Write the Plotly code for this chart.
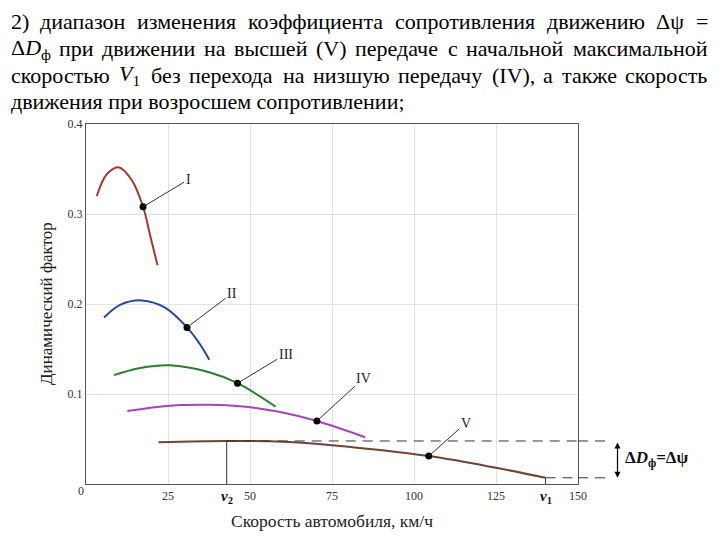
import re
import plotly.graph_objects as go

# dynamic factor curves for gears I..V (speed km/h, dynamic factor)
speed_I = [3.3, 6.3, 9.9, 13.9, 17.4, 19.5, 21.8]
dyn_I = [0.320, 0.344, 0.352, 0.338, 0.308, 0.277, 0.243]
speed_II = [5.5, 10.4, 17.1, 24.1, 30.8, 34.8, 37.6]
dyn_II = [0.185, 0.199, 0.204, 0.196, 0.174, 0.155, 0.138]
speed_III = [8.5, 16.5, 25.6, 36.8, 46.2, 57.8]
dyn_III = [0.121, 0.129, 0.132, 0.125, 0.112, 0.086]
speed_IV = [12.6, 25.6, 37.8, 47.0, 59.2, 70.4, 85.1]
dyn_IV = [0.081, 0.087, 0.088, 0.0864, 0.080, 0.070, 0.052]
speed_V = [22.1, 42.9, 60.0, 75.0, 104.5, 125.0, 140.1]
dyn_V = [0.0464, 0.0478, 0.0469, 0.0431, 0.031, 0.018, 0.0069]

gear_names = ["I", "II", "III", "IV", "V"]
# marked points on each curve
dot_speed = [17.4, 30.8, 46.2, 70.4, 104.5]
dot_dyn = [0.308, 0.174, 0.112, 0.070, 0.031]

v2_speed = 42.9      # speed at max dynamic factor on V
v1_speed = 140.1     # max speed on V
dyn_max_V = 0.0478
dyn_v1 = 0.0069

x_ticks = [25, 50, 75, 100, 125, 150]
y_ticks = [0.1, 0.2, 0.3, 0.4]
y_ticklabels = ["0.1", "0.2", "0.3", "0.4"]

title_lines = [
    ["2)", "диапазон", "изменения", "коэффициента", "сопротивления", "движению", "Δψ", "="],
    ["Δ<i>D</i><sub>ф</sub>", "при", "движении", "на", "высшей", "(V)", "передаче", "с",
     "начальной", "максимальной"],
    ["скоростью", "<i>V</i><sub>1</sub>", "без", "перехода", "на", "низшую", "передачу",
     "(IV),", "а", "также", "скорость"],
]
title_last = "движения при возросшем сопротивлении;"

colors = ["#a8372a", "#2747a3", "#2a7e2e", "#a445b8", "#6e4434"]
SERIF = "Liberation Serif"

# plot area in page pixels; the page body adds an 8px offset to the figure
PAGE_OFF = 8
L, R, T, B = 86, 578, 124, 484
def px(xp):
    return (xp - L) / (R - L)
def py(yp):
    return (B - yp) / (B - T)

# approximate Times advance widths (em) for justifying the heading
CHAR_W = {
    'а': .444, 'б': .508, 'в': .472, 'г': .41, 'д': .509, 'е': .444, 'ж': .691, 'з': .395,
    'и': .535, 'й': .535, 'к': .486, 'л': .499, 'м': .633, 'н': .535, 'о': .5, 'п': .535,
    'р': .5, 'с': .444, 'т': .437, 'у': .5, 'ф': .648, 'х': .5, 'ц': .535, 'ч': .503,
    'ш': .77, 'щ': .77, 'ъ': .517, 'ы': .672, 'ь': .456, 'э': .429, 'ю': .747, 'я': .484,
    'V': .722, 'I': .333, 'D': .722, '(': .333, ')': .333, ',': .25, ';': .278, '=': .564,
    '2': .5, '1': .5, 'Δ': .612, 'ψ': .686, ' ': .25,
}

def text_width(s, size):
    total = 0.0
    for m in re.finditer(r'<sub>(.*?)</sub>|<[^>]+>|([^<]+)', s):
        if m.group(1) is not None:
            total += 0.7 * sum(CHAR_W.get(c, .5) for c in m.group(1))
        elif m.group(2) is not None:
            total += sum(CHAR_W.get(c, .5) for c in m.group(2))
    return total * size

fig = go.Figure()

for sp, dy, col in zip([speed_I, speed_II, speed_III, speed_IV, speed_V],
                       [dyn_I, dyn_II, dyn_III, dyn_IV, dyn_V], colors):
    fig.add_trace(go.Scatter(x=sp, y=dy, mode="lines", line=dict(color=col, width=2, shape="spline"),
                             hoverinfo="skip", showlegend=False))

fig.add_trace(go.Scatter(x=dot_speed, y=dot_dyn, mode="markers",
                         marker=dict(color="black", size=7), showlegend=False, cliponaxis=False))

ann = []
# gear labels with leader lines
offsets = [(45, -27), (45, -34), (48, -29), (47, -43), (37, -33)]
for name, xs, ys, (ax, ay) in zip(gear_names, dot_speed, dot_dyn, offsets):
    ann.append(dict(x=xs, y=ys, xref="x", yref="y", text=name, showarrow=True, arrowhead=0,
                    arrowwidth=1, arrowcolor="#333", ax=ax, ay=ay, standoff=0,
                    font=dict(family=SERIF, size=14, color="#222")))

# v2 / v1 labels
for sp, lab in [(v2_speed, "<b><i>v</i><sub>2</sub></b>"), (v1_speed, "<b><i>v</i><sub>1</sub></b>")]:
    ann.append(dict(x=sp, y=0, xref="x", yref="y", text=lab, showarrow=False, yanchor="top",
                    yshift=-2, font=dict(family=SERIF, size=15, color="#111")))

# double arrow and delta label on the right
ann.append(dict(x=px(617.5), xref="paper", y=dyn_v1, yref="y", ax=0, ay=dyn_max_V, ayref="y",
                text="", showarrow=True, arrowhead=2, arrowside="end+start", arrowsize=1,
                arrowwidth=1.2, arrowcolor="black", standoff=0, startstandoff=0))
ann.append(dict(x=px(623), xref="paper", y=(dyn_max_V + dyn_v1) / 2, yref="y", xanchor="left",
                yanchor="middle", text="<b>Δ<i>D</i><sub>ф</sub>=Δψ</b>", showarrow=False,
                font=dict(family=SERIF, size=17, color="#111")))

# axis titles and origin label
ann.append(dict(x=px(46), y=0.5, xref="paper", yref="paper", text="Динамический фактор",
                textangle=-90, showarrow=False, xanchor="center", yanchor="middle",
                font=dict(family=SERIF, size=17, color="#222")))
ann.append(dict(x=px(332), y=py(521), xref="paper", yref="paper", text="Скорость автомобиля, км/ч",
                showarrow=False, xanchor="center", yanchor="middle",
                font=dict(family=SERIF, size=17.5, color="#222")))
ann.append(dict(x=px(81), y=py(491), xref="paper", yref="paper", text="0", showarrow=False,
                xanchor="center", yanchor="middle", font=dict(family=SERIF, size=12, color="#333")))

# justified heading, word by word
TS = 22
left_px, right_px = 11, 708
line_y = [22, 48.5, 75, 101]
for words, yp in zip(title_lines, line_y):
    widths = [text_width(w, TS) for w in words]
    gap = (right_px - left_px - sum(widths)) / (len(words) - 1)
    xp = left_px
    for w, wd in zip(words, widths):
        ann.append(dict(x=px(xp), y=py(yp), xref="paper", yref="paper", text=w, showarrow=False,
                        xanchor="left", yanchor="middle", borderpad=0, borderwidth=0,
                        font=dict(family=SERIF, size=TS, color="black")))
        xp += wd + gap
ann.append(dict(x=px(left_px), y=py(line_y[3]), xref="paper", yref="paper", text=title_last,
                showarrow=False, xanchor="left", yanchor="middle", borderpad=0, borderwidth=0,
                font=dict(family=SERIF, size=TS, color="black")))

shapes = []
dash = dict(color="#333", width=1, dash="10px,7px")
for yv, x0 in [(dyn_max_V, v2_speed), (dyn_v1, v1_speed)]:
    shapes.append(dict(type="line", xref="x", yref="y", x0=x0, x1=150, y0=yv, y1=yv, line=dash))
    shapes.append(dict(type="line", xref="paper", yref="y", x0=1, x1=px(612), y0=yv, y1=yv, line=dash))
shapes.append(dict(type="line", xref="x", yref="y", x0=v2_speed, x1=v2_speed, y0=0, y1=dyn_max_V,
                   line=dict(color="#333", width=1)))
shapes.append(dict(type="line", xref="x", yref="y", x0=v1_speed, x1=v1_speed, y0=0, y1=dyn_v1,
                   line=dict(color="#333", width=1)))

W, H = 720 - PAGE_OFF, 540 - PAGE_OFF
fig.update_layout(
    width=W, height=H,
    margin=dict(l=L - PAGE_OFF, r=720 - R, t=T - PAGE_OFF, b=540 - B, autoexpand=False),
    plot_bgcolor="white", paper_bgcolor="white",
    annotations=ann, shapes=shapes,
    font=dict(family=SERIF, color="#333"),
    xaxis=dict(range=[0, 150], tickvals=x_ticks, showgrid=True, gridcolor="#e2e2e2",
               showline=True, linecolor="#555", linewidth=1.2, mirror=True, zeroline=False,
               ticks="", tickfont=dict(family=SERIF, size=12, color="#333")),
    yaxis=dict(range=[0, 0.4], tickvals=y_ticks, ticktext=y_ticklabels, showgrid=True,
               gridcolor="#e2e2e2", showline=True, linecolor="#555", linewidth=1.2, mirror=True,
               zeroline=False, ticks="", tickfont=dict(family=SERIF, size=12, color="#333")),
)

fig.write_html("out.html")
